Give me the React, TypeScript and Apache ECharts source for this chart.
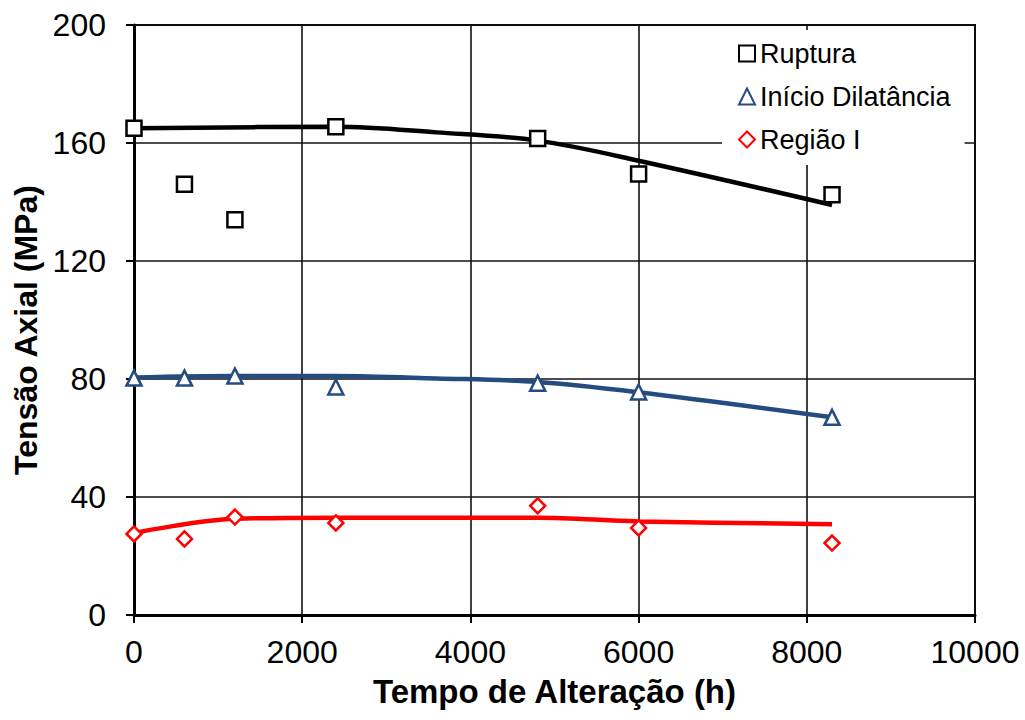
import React, { useEffect, useRef } from "react";
import * as echarts from "echarts";

const timeHours = [0, 600, 1200, 2400, 4800, 6000, 8300];
const rupturaValues = [165, 146, 134, 165.5, 161.5, 149.5, 142.5];
const dilatanciaValues = [80.3, 80.3, 81, 77.3, 78.6, 75.6, 67];
const regiaoValues = [27.5, 25.8, 33.2, 31.2, 37, 29.5, 24.4];

const rupturaFit: [number, number][] = [
  [0, 165], [2400, 165.5], [3600, 163.6], [4800, 160.8], [6000, 154], [8300, 139],
];
const dilatanciaFit: [number, number][] = [
  [0, 80.5], [1200, 81], [2400, 81], [3600, 80.2], [4800, 79], [6000, 75.5], [8300, 67],
];
const regiaoFit: [number, number][] = [
  [0, 27.8], [1200, 32.6], [2400, 33], [3600, 33], [4800, 33], [6000, 31.7], [8300, 30.8],
];

const yTicks = { min: 0, max: 200, interval: 40 };
const xTicks = { min: 0, max: 10000, interval: 2000 };

const FONT = "'Liberation Sans', Arial, sans-serif";
const BLUE = "#244c80";
const RED = "#ff0000";

const pairs = (xs: number[], ys: number[]) => xs.map((x, i) => [x, ys[i]]);

export default function App() {
  const ref = useRef<HTMLDivElement>(null);
  useEffect(() => {
    document.body.style.margin = "0";
    const chart = echarts.init(ref.current!, null, { renderer: "svg" });
    chart.setOption({
      animation: false,
      backgroundColor: "#fff",
      textStyle: { fontFamily: FONT },
      grid: {
        left: 134, right: 50, top: 25, bottom: 105,
        show: true, borderColor: "#000", borderWidth: 2, backgroundColor: "transparent",
      },
      legend: {
        orient: "vertical",
        left: 722, top: 30,
        backgroundColor: "#fff",
        padding: [10, 14, 12, 16],
        itemWidth: 16, itemHeight: 16, itemGap: 16,
        textStyle: { fontSize: 27, color: "#000", fontFamily: FONT },
        data: ["Ruptura", "Início Dilatância", "Região I"],
      },
      xAxis: {
        type: "value",
        ...xTicks,
        name: "Tempo de Alteração (h)",
        nameLocation: "middle",
        nameGap: 60,
        nameTextStyle: { fontSize: 33, fontWeight: "bold", color: "#000", fontFamily: FONT },
        axisLine: { show: true, onZero: false, lineStyle: { color: "#000", width: 3 } },
        axisTick: { show: true, inside: false, length: 8, lineStyle: { color: "#000", width: 2 } },
        axisLabel: {
          fontSize: 32, color: "#000", margin: 21, fontFamily: FONT,
          formatter: (v: number) => String(v),
        },
        splitLine: { show: true, lineStyle: { color: "#111", width: 1.6 } },
      },
      yAxis: {
        type: "value",
        ...yTicks,
        name: "Tensão Axial (MPa)",
        nameLocation: "middle",
        nameGap: 88,
        nameTextStyle: {
          fontSize: 32, fontWeight: "bold", color: "#000", fontFamily: FONT,
          padding: [0, 20, 0, 0],
        },
        axisLine: { show: true, onZero: false, lineStyle: { color: "#000", width: 3 } },
        axisTick: { show: true, inside: false, length: 8, lineStyle: { color: "#000", width: 2 } },
        axisLabel: {
          fontSize: 32, color: "#000", margin: 28, fontFamily: FONT,
          formatter: (v: number) => String(v),
        },
        splitLine: { show: true, lineStyle: { color: "#111", width: 1.6 } },
      },
      series: [
        {
          name: "Ruptura ajuste", type: "line", data: rupturaFit, smooth: 0.35,
          showSymbol: false, lineStyle: { color: "#000", width: 4.5 }, z: 3,
        },
        {
          name: "Início Dilatância ajuste", type: "line", data: dilatanciaFit, smooth: 0.35,
          showSymbol: false, lineStyle: { color: BLUE, width: 4.5 }, z: 3,
        },
        {
          name: "Região I ajuste", type: "line", data: regiaoFit, smooth: 0.35,
          showSymbol: false, lineStyle: { color: RED, width: 4.5 }, z: 3,
        },
        {
          name: "Ruptura", type: "scatter", data: pairs(timeHours, rupturaValues),
          symbol: "rect", symbolSize: 15, z: 5,
          itemStyle: { color: "#fff", borderColor: "#000", borderWidth: 2.5, opacity: 1 },
        },
        {
          name: "Início Dilatância", type: "scatter", data: pairs(timeHours, dilatanciaValues),
          symbol: "triangle", symbolSize: 15, z: 5,
          itemStyle: { color: "#fff", borderColor: BLUE, borderWidth: 2.5, opacity: 1 },
        },
        {
          name: "Região I", type: "scatter", data: pairs(timeHours, regiaoValues),
          symbol: "diamond", symbolSize: 15, z: 5,
          itemStyle: { color: "#fff", borderColor: RED, borderWidth: 2.5, opacity: 1 },
        },
      ],
    });
    return () => chart.dispose();
  }, []);
  return <div ref={ref} style={{ width: 1025, height: 720 }} />;
}
